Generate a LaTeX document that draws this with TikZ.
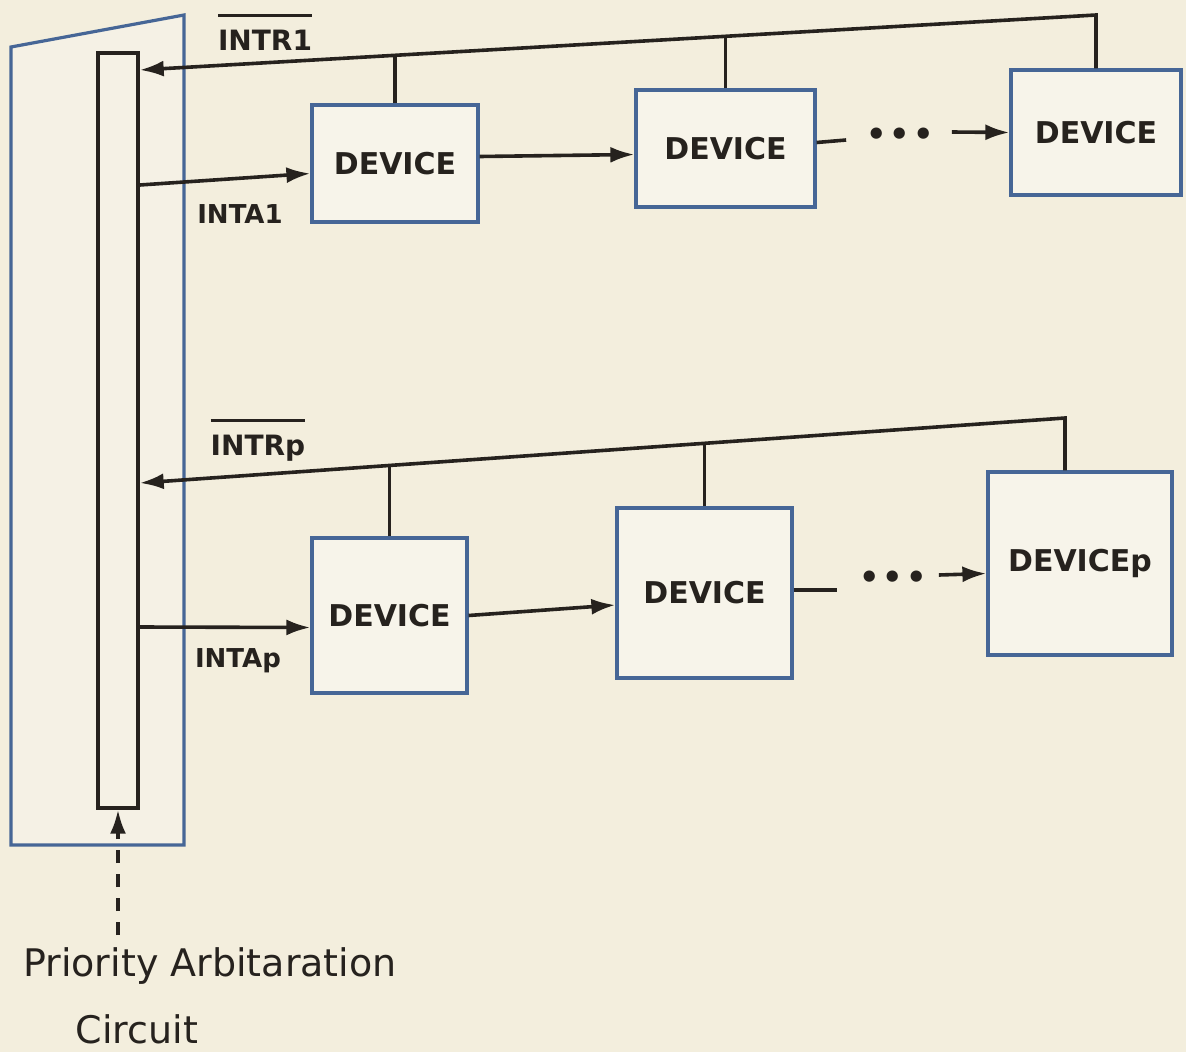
\documentclass[tikz,border=0pt]{standalone}
\usepackage{fontspec}
\setmainfont{DejaVu Sans}
\usetikzlibrary{arrows.meta,calc}
\definecolor{paper}{RGB}{243,238,221}
\definecolor{innerpaper}{RGB}{245,241,229}
\definecolor{boxblue}{RGB}{70,102,150}
\definecolor{ink}{RGB}{38,34,30}
\definecolor{devfill}{RGB}{247,244,234}
\newcommand{\ovl}[1]{\leavevmode\vbox{\hrule height 2.6pt\kern 13pt\hbox{#1}}}
\begin{document}
\begin{tikzpicture}[x=1pt,y=-1pt,
  devbox/.style={draw=boxblue, line width=3.2pt, fill=devfill, inner sep=0pt,
    font=\fontsize{30}{32}\selectfont\bfseries, text=ink},
  wire/.style={draw=ink, line width=3.6pt},
  arr/.style={wire, -{Latex[length=24pt,width=16pt]}},
  lbl/.style={text=ink, inner sep=0pt, anchor=base, font=\fontsize{26}{28}\selectfont\bfseries},
  hand/.style={text=ink, inner sep=0pt, anchor=base, font=\fontsize{38}{40}\selectfont},
  dotsty/.style={text=ink, inner sep=0pt, font=\fontsize{32}{34}\selectfont\bfseries}]
\fill[paper] (0,0) rectangle (1186,1052);
\useasboundingbox (0,0) rectangle (1186,1052);

% outer priority box
\draw[boxblue, line width=3.2pt, fill=innerpaper] (11,47) -- (184,15) -- (184,845) -- (11,845) -- cycle;
% inner bar
\node[draw=ink, line width=3.4pt, fill=innerpaper, minimum width=40pt, minimum height=755pt, inner sep=0pt] (bar) at (118,430.5) {};

% devices, group 1
\node[devbox, minimum width=166pt, minimum height=117pt] (a1) at (395,163.5) {DEVICE};
\node[devbox, minimum width=179pt, minimum height=117pt] (a2) at (725.5,148.5) {DEVICE};
\node[devbox, minimum width=170pt, minimum height=125pt] (a3) at (1096,132.5) {DEVICE};
% devices, group p
\node[devbox, minimum width=155pt, minimum height=155pt] (b1) at (389.5,615.5) {DEVICE};
\node[devbox, minimum width=175pt, minimum height=170pt] (b2) at (704.5,593) {DEVICE};
\node[devbox, minimum width=184pt, minimum height=183pt] (bp) at (1080,563.5) {DEVICEp};

% INTR1 bus
\coordinate (r1) at (1096,15);
\coordinate (t1) at (bar.east |- 0,70);
\coordinate (j1) at (395,55.2);
\coordinate (j2) at (725.5,36.3);
\draw[arr, line join=miter] (a3.north) -- (r1) -- (t1);
\draw[wire] (a1.north) -- (j1);
\draw[wire] (a2.north) -- (j2);

% INTRp bus
\coordinate (r2) at (1065,418);
\coordinate (t2) at (bar.east |- 0,483);
\coordinate (k1) at (389.5,465.4);
\coordinate (k2) at (704.5,443.3);
\draw[arr, line join=miter] (bp.north -| r2) -- (r2) -- (t2);
\draw[wire] (b1.north) -- (k1);
\draw[wire] (b2.north) -- (k2);

% INTA lines
\coordinate (s1) at (bar.east |- 0,185);
\draw[arr] (s1) -- ([yshift=-10pt]a1.west);
\coordinate (s2) at (bar.east |- 0,627);
\draw[arr] (s2) -- ([yshift=-12pt]b1.west);

% daisy chain group 1
\draw[arr] ([yshift=7pt]a1.east) -- ([yshift=-6pt]a2.west);
\node[dotsty] (dotsA) at (900,137) {\textbullet\hspace{3pt}\textbullet\hspace{3pt}\textbullet};
\draw[wire] ([yshift=6pt]a2.east) -- ([xshift=-20pt,yshift=-3pt]dotsA.west);
\draw[arr] ([xshift=18pt,yshift=5pt]dotsA.east) -- (a3.west);

% daisy chain group p
\draw[arr] (b1.east) -- ([yshift=-12pt]b2.west);
\node[dotsty] (dotsB) at (893,580) {\textbullet\hspace{3pt}\textbullet\hspace{3pt}\textbullet};
\draw[wire] ([yshift=3pt]b2.east) -- ([xshift=-22pt,yshift=-10pt]dotsB.west);
\draw[arr] ([xshift=12pt,yshift=5pt]dotsB.east) -- ([yshift=-10pt]bp.west);

% labels
\node[lbl, font=\fontsize{28}{30}\selectfont\bfseries] (lr1) at (265,50) {\ovl{INTR1}};
\node[lbl] (la1) at (240,223) {INTA1};
\node[lbl, font=\fontsize{28}{30}\selectfont\bfseries] (lrp) at (258,455) {\ovl{INTRp}};
\node[lbl] (lap) at (238,667) {INTAp};

% priority arbitration circuit
\node[hand] (pa) at (210,976) {Priority Arbitaration};
\node[hand] (pc) at (137,1043) {Circuit};
\coordinate (dstart) at (bar.south |- 0,935);
\draw[arr, dash pattern=on 13pt off 11pt] (dstart) -- (bar.south);
\end{tikzpicture}
\end{document}
